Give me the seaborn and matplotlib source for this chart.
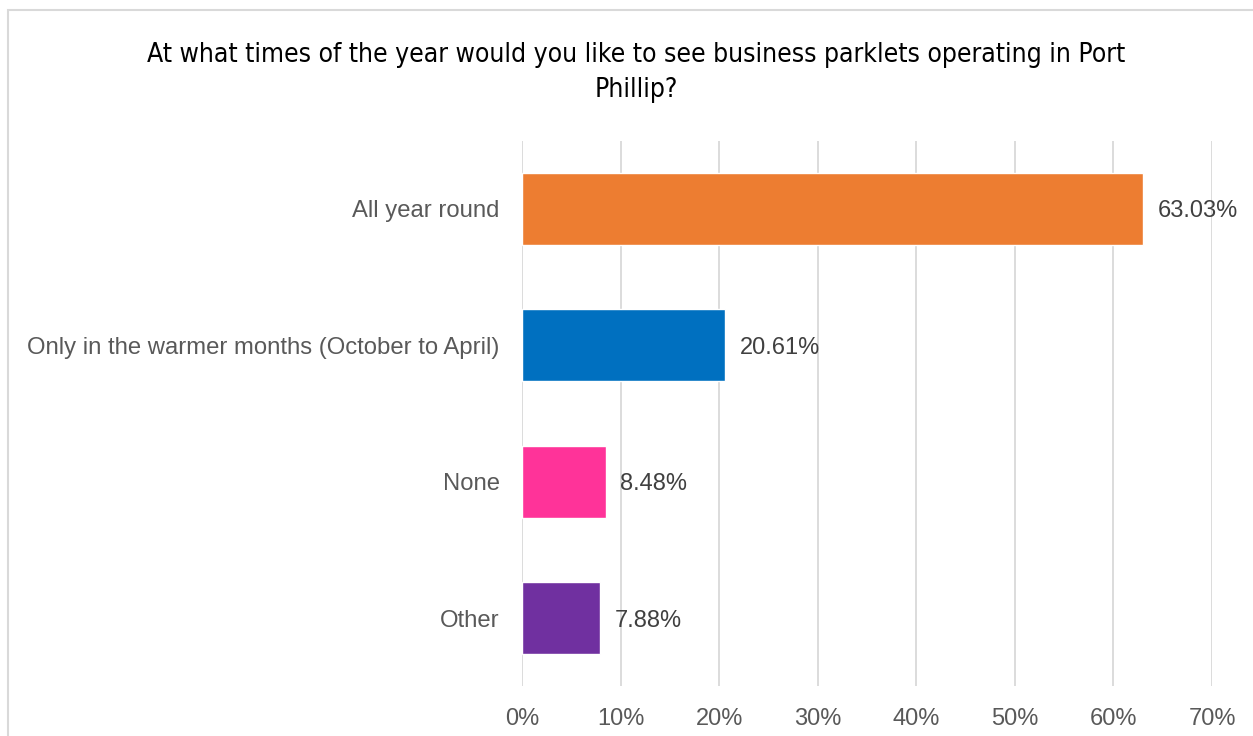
import matplotlib
matplotlib.use("Agg")
import matplotlib.pyplot as plt
import seaborn as sns
import pandas as pd
from matplotlib.patches import Rectangle

categories = ["All year round", "Only in the warmer months (October to April)", "None", "Other"]
values = [63.03, 20.61, 8.48, 7.88]
colors = ["#ED7D31", "#0070C0", "#FF3399", "#7030A0"]
xticks = [0, 10, 20, 30, 40, 50, 60, 70]
title = "At what times of the year would you like to see business parklets operating in Port\nPhillip?"

sns.set_theme(style="white")
plt.rcParams["font.family"] = ["Liberation Sans", "DejaVu Sans"]

df = pd.DataFrame({"cat": categories, "val": values})

fig = plt.figure(figsize=(12.53, 7.36), dpi=100)
ax = fig.add_axes([0.4166, 0.0676, 0.5507, 0.7412])

sns.barplot(data=df, x="val", y="cat", hue="cat", palette=colors, legend=False,
            orient="h", width=0.53, ax=ax, saturation=1)

ax.set_xlim(0, 70)
ax.set_ylim(3.5, -0.5)
ax.set_xticks(xticks)
ax.set_xticklabels([f"{t}%" for t in xticks])
ax.xaxis.grid(True, color="#D9D9D9", linewidth=1.3)
ax.set_axisbelow(True)
for s in ax.spines.values():
    s.set_visible(False)
ax.set_xlabel("")
ax.set_ylabel("")
ax.tick_params(axis="x", length=0, pad=15.5, labelsize=17, labelcolor="#595959")
ax.tick_params(axis="y", length=0, pad=16, labelsize=17.2, labelcolor="#595959")

for i, v in enumerate(values):
    ax.text(v + 1.5, i, f"{v:.2f}%", va="center_baseline", ha="left", fontsize=17, color="#404040")

fig.text(0.5075, 0.901, title, ha="center", va="center", fontsize=19,
         family=["DejaVu Sans"], stretch="condensed", color="#000000", linespacing=1.45)

fig.patches.append(Rectangle((8 / 1253, -0.1), 1.2, 1 - 10 / 736 + 0.1, transform=fig.transFigure,
                             fill=False, edgecolor="#D9D9D9", linewidth=1.5))

fig.savefig("out.png", dpi=100)
